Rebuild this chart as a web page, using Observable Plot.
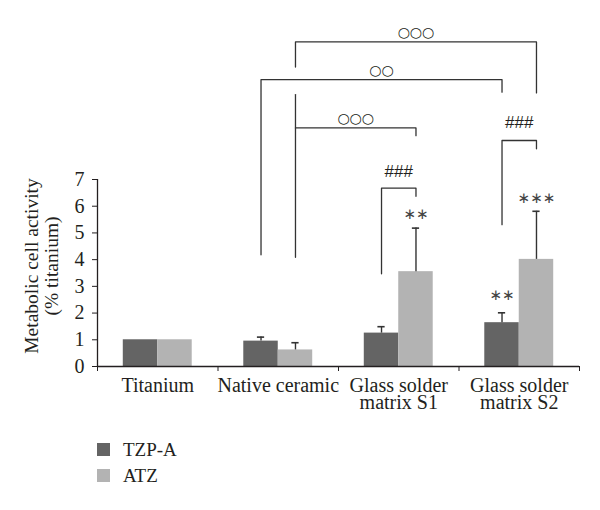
<!DOCTYPE html>
<html><head><meta charset="utf-8">
<script src="https://cdn.jsdelivr.net/npm/d3@7"></script>
<script src="https://cdn.jsdelivr.net/npm/@observablehq/plot@0.6"></script>
<style>
body{margin:0;background:#fff;font-family:"Liberation Serif",serif;}
#chart{position:relative;width:600px;height:510px;}
#chart svg{position:absolute;left:0;top:0;}
.leg{position:absolute;font-size:19px;line-height:22px;color:#231f20;white-space:nowrap}
.sw{position:absolute;width:13px;height:13px}
</style></head><body><div id="chart"></div>
<script>
// ---- data ----
const categories = ["Titanium", "Native ceramic", "Glass solder\nmatrix S1", "Glass solder\nmatrix S2"];
const seriesNames = ["TZP-A", "ATZ"];
const tzpA = [1.00, 0.95, 1.25, 1.64];
const atz = [1.00, 0.62, 3.55, 4.01];
const tzpAErrTop = [null, 1.10, 1.49, 2.01];
const atzErrTop = [null, 0.89, 5.18, 5.81];
const yTicks = [0, 1, 2, 3, 4, 5, 6, 7];
const seriesColors = ["#646464", "#b3b3b3"];
const yLabel = "Metabolic cell activity\n(% titanium)";
// significance brackets: [category, series] endpoints, y levels
const brackets = [
  {label: "○○○", left: [1, "ATZ"], right: [3, "ATZ"], y: 12.15, leftEnd: 11.21, rightEnd: 10.24, labelY: 12.50},
  {label: "○○", left: [1, "TZP-A"], right: [3, "TZP-A"], y: 10.74, leftEnd: 4.18, rightEnd: 10.27, labelY: 11.08},
  {label: "○○○", left: [1, "ATZ"], right: [2, "ATZ"], y: 8.93, leftEnd: 4.09, rightEnd: 8.64, labelY: 9.30, leftTop: 10.18},
  {label: "###", left: [3, "TZP-A"], right: [3, "ATZ"], y: 8.46, leftEnd: 5.31, rightEnd: 8.15, labelY: 9.15},
  {label: "###", left: [2, "TZP-A"], right: [2, "ATZ"], y: 6.68, leftEnd: 3.47, rightEnd: 6.37, labelY: 7.28}
];
const stars = [
  {cat: 2, series: "ATZ", label: "∗∗", y: 5.69},
  {cat: 3, series: "ATZ", label: "∗∗∗", y: 6.30},
  {cat: 3, series: "TZP-A", label: "∗∗", y: 2.66}
];

// ---- layout helpers ----
const BW = 0.286; // bar width in category units
const center = (i, s) => i + (s === "TZP-A" ? -BW / 2 : BW / 2);

const bars = [];
categories.forEach((c, i) => {
  bars.push({i, series: "TZP-A", value: tzpA[i], top: tzpAErrTop[i]});
  bars.push({i, series: "ATZ", value: atz[i], top: atzErrTop[i]});
});
const errs = bars.filter(d => d.top != null);

const bracketPts = [];
brackets.forEach((b, k) => {
  const L = center(...b.left), R = center(...b.right);
  bracketPts.push({id: k, x: L, y: b.leftEnd}, {id: k, x: L, y: b.y}, {id: k, x: R, y: b.y}, {id: k, x: R, y: b.rightEnd});
  if (b.leftTop != null) bracketPts.push({id: k + "t", x: L, y: b.y}, {id: k + "t", x: L, y: b.leftTop});
});
const circleLabels = brackets.filter(b => b.label.startsWith("○"));
const hashLabels = brackets.filter(b => b.label.startsWith("#"));
const mid = b => (center(...b.left) + center(...b.right)) / 2;

const ink = "#231f20";
const lineInk = "#333";

const plot = Plot.plot({
  width: 600,
  height: 430,
  marginLeft: 97,
  marginRight: 21,
  marginTop: 179,
  marginBottom: 64,
  style: {fontFamily: "Liberation Serif", fontSize: "20px", color: ink, background: "#fff"},
  x: {type: "linear", domain: [-0.5, 3.5], axis: null},
  y: {domain: [0, 7], axis: null},
  color: {domain: seriesNames, range: seriesColors},
  marks: [
    Plot.rectY(bars, {x1: d => center(d.i, d.series) - BW / 2, x2: d => center(d.i, d.series) + BW / 2, y1: 0, y2: "value", fill: "series"}),
    Plot.ruleX(errs, {x: d => center(d.i, d.series), y1: "value", y2: "top", stroke: lineInk, strokeWidth: 1.4}),
    Plot.ruleY(errs, {y: "top", x1: d => center(d.i, d.series) - 0.03, x2: d => center(d.i, d.series) + 0.03, stroke: lineInk, strokeWidth: 1.6}),
    Plot.line(bracketPts, {x: "x", y: "y", z: "id", stroke: lineInk, strokeWidth: 1.3}),
    Plot.text(circleLabels, {x: mid, y: "labelY", text: "label", fontFamily: "DejaVu Sans", fontSize: 14, fill: ink}),
    Plot.text(hashLabels, {x: mid, y: "labelY", text: "label", fontFamily: "Liberation Sans", fontSize: 17, fill: ink}),
    Plot.text(stars, {x: d => center(d.cat, d.series), y: "y", text: "label", fontFamily: "DejaVu Sans", fontSize: 15, fill: "#444"}),
    Plot.ruleX([-0.5], {y1: 0, y2: 7, stroke: ink, strokeWidth: 1.3}),
    Plot.ruleY([0], {x1: -0.5, x2: 3.5, stroke: ink, strokeWidth: 1.3}),
    Plot.axisY({ticks: yTicks, tickSize: 5, tickPadding: 8, tickFormat: "d", fontSize: 20, label: null, stroke: ink}),
    Plot.axisX({ticks: [-0.5, 0.5, 1.5, 2.5, 3.5], tickSize: 5, tickFormat: () => "", label: null, stroke: ink}),
    Plot.axisX({ticks: [0, 1, 2, 3], tickSize: 0, tickPadding: 13, tickFormat: i => categories[i], fontSize: 20, lineHeight: 0.85, label: null}),
    Plot.text([yLabel], {frameAnchor: "left", text: d => d, rotate: -90, dx: -56, dy: -7, fontSize: 19.5, lineHeight: 1.0, textAnchor: "middle", lineAnchor: "middle", fill: ink})
  ]
});
const chart = document.getElementById("chart");
chart.appendChild(plot);

// legend (HTML, below the SVG)
seriesNames.forEach((s, k) => {
  const sw = document.createElement("div");
  sw.className = "sw";
  sw.style.left = "97px";
  sw.style.top = (443 + 26 * k) + "px";
  sw.style.background = seriesColors[k];
  chart.appendChild(sw);
  const t = document.createElement("div");
  t.className = "leg";
  t.style.left = "123px";
  t.style.top = (438.6 + 26 * k) + "px";
  t.textContent = s;
  chart.appendChild(t);
});
</script>
</body></html>
